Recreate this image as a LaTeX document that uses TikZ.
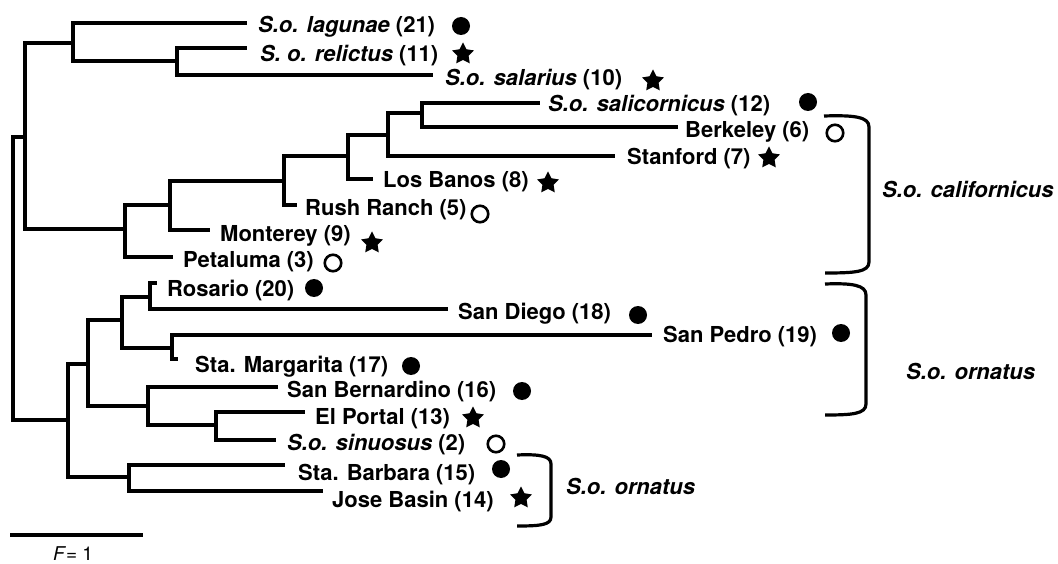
\documentclass[tikz,border=0pt]{standalone}
\usepackage{fontspec}
\setmainfont{TeX Gyre Heros}
\usetikzlibrary{shapes.geometric}
\begin{document}
\begin{tikzpicture}[x=1pt,y=-1pt,
  br/.style={line width=3.2pt, line cap=butt, line join=miter},
  lab/.style={anchor=base west, inner sep=0pt, font=\fontsize{22}{26}\selectfont\bfseries},
  grp/.style={anchor=base west, inner sep=0pt, font=\fontsize{22}{26}\selectfont\bfseries\itshape},
  fdot/.style={circle, fill=black, inner sep=0pt, minimum size=18pt},
  odot/.style={circle, draw=black, line width=2.6pt, inner sep=0pt, minimum size=16.5pt},
  fstar/.style={star, star points=5, star point ratio=1.95, fill=black, inner sep=0pt, minimum size=23pt},
  brk/.style={line width=3.2pt}]
\useasboundingbox (0,0) rectangle (1058,564);

% internal nodes
\coordinate (R) at (13,278);
\coordinate (A) at (25,137);
\coordinate (B) at (73,43);
\coordinate (D) at (177,61);
\coordinate (C) at (125,229);
\coordinate (E) at (170,205);
\coordinate (F) at (284,181);
\coordinate (G) at (348,156);
\coordinate (H) at (388,135);
\coordinate (I) at (422,113);
\coordinate (J) at (68,420);
\coordinate (K) at (88,364);
\coordinate (L) at (122,320);
\coordinate (M) at (150,297);
\coordinate (N) at (172,348);
\coordinate (O) at (148,406);
\coordinate (P) at (216,425);
\coordinate (Q) at (129,477);
% leaf ends
\coordinate (lagE) at (247,23);
\coordinate (relE) at (247,48);
\coordinate (salE) at (433,75);
\coordinate (slcE) at (540,103);
\coordinate (berE) at (678,127);
\coordinate (staE) at (615,156);
\coordinate (lobE) at (373,179);
\coordinate (rusE) at (297,205);
\coordinate (monE) at (210,230);
\coordinate (petE) at (173,257);
\coordinate (rosE) at (157,283);
\coordinate (sdgE) at (448,309);
\coordinate (spdE) at (652,335);
\coordinate (marE) at (178,359);
\coordinate (sbeE) at (278,387);
\coordinate (elpE) at (305,412);
\coordinate (sinE) at (276,440);
\coordinate (sbaE) at (285,465);
\coordinate (josE) at (323,491);

% branches
\draw[br] (R) |- (A); \draw[br] (R) |- (J);
\draw[br] (A) |- (B); \draw[br] (A) |- (C);
\draw[br] (B) |- (lagE); \draw[br] (B) |- (D);
\draw[br] (D) |- (relE); \draw[br] (D) |- (salE);
\draw[br] (C) |- (petE); \draw[br] (C) |- (E);
\draw[br] (E) |- (monE); \draw[br] (E) |- (F);
\draw[br] (F) |- (rusE); \draw[br] (F) |- (G);
\draw[br] (G) |- (lobE); \draw[br] (G) |- (H);
\draw[br] (H) |- (staE); \draw[br] (H) |- (I);
\draw[br] (I) |- (slcE); \draw[br] (I) |- (berE);
\draw[br] (J) |- (K); \draw[br] (J) |- (Q);
\draw[br] (K) |- (L); \draw[br] (K) |- (O);
\draw[br] (L) |- (M); \draw[br] (L) |- (N);
\draw[br] (M) |- (rosE); \draw[br] (M) |- (sdgE);
\draw[br] (N) |- (spdE); \draw[br] (N) |- (marE);
\draw[br] (O) |- (sbeE); \draw[br] (O) |- (P);
\draw[br] (P) |- (elpE); \draw[br] (P) |- (sinE);
\draw[br] (Q) |- (sbaE); \draw[br] (Q) |- (josE);

% labels
\node[lab] (lag) at (258,32.5) {\textit{S.o. lagunae} (21)};
\node[lab] (rel) at (260,61.5) {\textit{S. o. relictus} (11)};
\node[lab] (sal) at (445,85.5) {\textit{S.o. salarius} (10)};
\node[lab] (slc) at (548,112) {\textit{S.o. salicornicus} (12)};
\node[lab] (ber) at (685,137.5) {Berkeley (6)};
\node[lab] (sta) at (627,164.5) {Stanford (7)};
\node[lab] (lob) at (383,187.5) {Los Banos (8)};
\node[lab] (rus) at (305,215.5) {Rush Ranch (5)};
\node[lab] (mon) at (220,241.5) {Monterey (9)};
\node[lab] (pet) at (183,267.5) {Petaluma (3)};
\node[lab] (ros) at (167,296.5) {Rosario (20)};
\node[lab] (sdg) at (458,319.5) {San Diego (18)};
\node[lab] (spd) at (663,342.5) {San Pedro (19)};
\node[lab] (mar) at (195,372.5) {Sta. Margarita (17)};
\node[lab] (sbe) at (287,397.5) {San Bernardino (16)};
\node[lab] (elp) at (315,424.5) {El Portal (13)};
\node[lab] (sin) at (287,450.5) {\textit{S.o. sinuosus} (2)};
\node[lab] (sba) at (298,480.5) {Sta. Barbara (15)};
\node[lab] (jos) at (332,507.5) {Jose Basin (14)};

% symbols
\node[fdot]  (lagS) at (461,26) {};
\node[fstar] (relS) at (463,54) {};
\node[fstar] (salS) at (653,81) {};
\node[fdot]  (slcS) at (808,102) {};
\node[odot]  (berS) at (835,133) {};
\node[fstar] (staS) at (769,158) {};
\node[fstar] (lobS) at (548,183) {};
\node[odot]  (rusS) at (480,214) {};
\node[fstar] (monS) at (372,243) {};
\node[odot]  (petS) at (333,263) {};
\node[fdot]  (rosS) at (314,288) {};
\node[fdot]  (sdgS) at (638,315) {};
\node[fdot]  (spdS) at (841,333) {};
\node[fdot]  (marS) at (411,366) {};
\node[fdot]  (sbeS) at (522,391) {};
\node[fstar] (elpS) at (473,418) {};
\node[odot]  (sinS) at (496,444) {};
\node[fdot]  (sbaS) at (501,469) {};
\node[fstar] (josS) at (521,498) {};

% brackets
\draw[brk] (824,116) .. controls (855,115) and (869,117) .. (869,127) -- (869,262) .. controls (869,272) and (855,273) .. (825,273);
\draw[brk] (825,284) .. controls (852,283) and (866,285) .. (866,295) -- (866,404) .. controls (866,414) and (852,415) .. (825,415);
\draw[brk] (517,455) .. controls (540,454) and (551,456) .. (551,464) -- (551,517) .. controls (551,525) and (540,526) .. (517,526);

\node[grp] (gcal) at (882,197.5) {S.o. californicus};
\node[grp] (gorn1) at (906,379.5) {S.o. ornatus};
\node[grp] (gorn2) at (566,494.5) {S.o. ornatus};

% scale bar
\coordinate (sb1) at (10,535);
\coordinate (sb2) at (143,535);
\draw[br] (sb1) -- (sb2);
\node[anchor=base, inner sep=0pt, font=\fontsize{19}{21}\selectfont] (sbl) at (73,560) {\textit{F}= 1};
\end{tikzpicture}
\end{document}
